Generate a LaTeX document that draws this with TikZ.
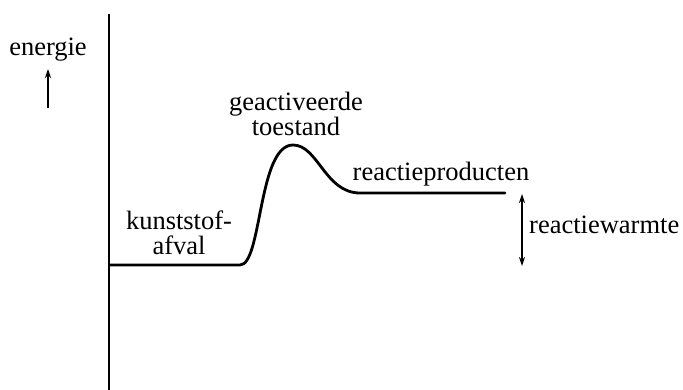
\documentclass[tikz,border=0pt]{standalone}
\usepackage{fontspec}
\setmainfont{Liberation Serif}
\usetikzlibrary{arrows.meta}
\begin{document}
\begin{tikzpicture}[x=1pt,y=-1pt,
  lbl/.style={inner sep=0pt,align=center,font=\fontsize{26.5}{25}\selectfont},
  curve/.style={line width=2.8pt,line cap=round,line join=round},
  axisline/.style={line width=1.8pt},
  arr/.style={line width=1.3pt,-{Stealth[length=9pt,width=6pt]}},
  darr/.style={line width=1.3pt,{Stealth[length=9pt,width=6pt]}-{Stealth[length=9pt,width=6pt]}}]
\useasboundingbox (0,0) rectangle (683,390);
\coordinate (axtop) at (109,14);
\coordinate (axbot) at (109,390);
\draw[axisline] (axtop) -- (axbot);
\node[lbl] (en) at (48,50) {energie};
\coordinate (enbot) at (48,108);
\coordinate (entop) at (48,69);
\draw[arr] (enbot) -- (entop);
\coordinate (c0) at (110,265);
\coordinate (c1) at (240,265);
\coordinate (peak) at (293,145);
\coordinate (c2) at (360,193);
\coordinate (c3) at (505,193);
\draw[curve] (c0) -- (c1) .. controls (262,265) and (258,145) .. (peak)
  .. controls (318,145) and (325,193) .. (c2) -- (c3);
\node[lbl] (ga) at (296,114) {geactiveerde\\toestand};
\node[lbl] (rp) at (441,174) {reactieproducten};
\node[lbl] (ka) at (179,233) {kunststof-\\afval};
\coordinate (rwtop) at (522,194);
\coordinate (rwbot) at (522,266);
\draw[darr] (rwtop) -- (rwbot);
\node[lbl,anchor=west] (rw) at (529,225) {reactiewarmte};
\end{tikzpicture}
\end{document}
